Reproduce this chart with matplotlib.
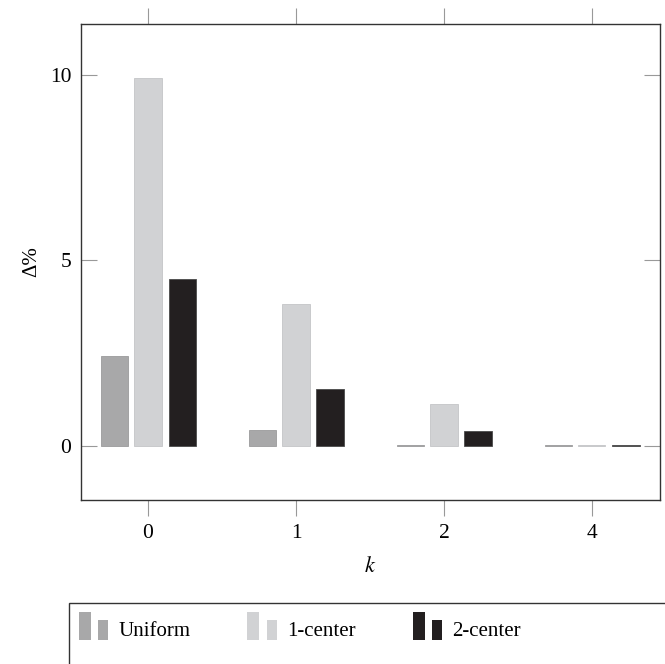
import matplotlib
matplotlib.use("Agg")
import matplotlib.pyplot as plt
import numpy as np
from matplotlib.legend_handler import HandlerBase
from matplotlib.patches import Rectangle

plt.rcParams["font.family"] = ["Liberation Serif", "DejaVu Serif"]
plt.rcParams["mathtext.fontset"] = "stix"

k_labels = ["0", "1", "2", "4"]
uniform = [2.41, 0.42, 0.03, 0.02]
one_center = [9.92, 3.81, 1.13, 0.02]
two_center = [4.51, 1.53, 0.41, 0.03]

series = [
    ("Uniform", uniform, "#a8a8a9", "#9a9a9b"),
    ("1-center", one_center, "#d1d2d4", "#c4c5c7"),
    ("2-center", two_center, "#231f20", "#4a4a4a"),
]


class TwoBarHandler(HandlerBase):
    def create_artists(self, legend, orig_handle, xdescent, ydescent, width, height, fontsize, trans):
        fc = orig_handle.get_facecolor()
        base = -ydescent - 0.3 * height
        tall = Rectangle((-xdescent, base), width * 0.41, height * 1.9,
                         facecolor=fc, edgecolor="none", transform=trans)
        short = Rectangle((-xdescent + width * 0.66, base), width * 0.34, height * 1.35,
                          facecolor=fc, edgecolor="none", transform=trans)
        return [tall, short]


fig = plt.figure(figsize=(6.65, 6.64), dpi=100)
ax = fig.add_axes([81 / 665, 1 - 500 / 664, (660 - 81) / 665, (500 - 24) / 664])

x = np.arange(len(k_labels))
offsets = [-0.227, 0.0, 0.230]
width = 0.183
handles = []
for (name, vals, fc, ec), off in zip(series, offsets):
    b = ax.bar(x + off, vals, width, color=fc, edgecolor=ec, linewidth=0.6, label=name)
    handles.append(b.patches[0])

ax.set_xlim(-0.453, 3.46)
ax.set_ylim(-1.46, 11.37)
ax.set_xticks(x)
ax.set_xticklabels(k_labels)
ax.set_yticks([0, 5, 10])
ax.tick_params(axis="x", direction="out", length=11.5, width=0.8, color="#999999",
               top=True, labeltop=False, labelsize=15.5, pad=6)
ax.tick_params(axis="y", direction="in", length=11.5, width=0.8, color="#999999",
               right=True, labelsize=15.5, pad=7)
for s in ax.spines.values():
    s.set_linewidth(1.0)
    s.set_color("#333333")

ax.set_xlabel(r"$k$", fontsize=16, labelpad=10)
ax.set_ylabel("Δ%", fontsize=15, labelpad=6)

# legend frame running off the figure edge
fig.patches.append(Rectangle((69 / 665, -0.2), 1.0, 0.2 + 1 - 603 / 664,
                             transform=fig.transFigure, fill=False,
                             edgecolor="#333333", linewidth=1.0, clip_on=False))
fig.legend(handles, [s[0] for s in series], handler_map={h: TwoBarHandler() for h in handles},
           loc="center left", bbox_to_anchor=(64 / 665, 1 - 631 / 664), ncol=3,
           frameon=False, fontsize=15, handlelength=1.4, handleheight=0.7,
           handletextpad=0.5, columnspacing=2.75, borderpad=0.2)

fig.savefig("out.png", dpi=100)
